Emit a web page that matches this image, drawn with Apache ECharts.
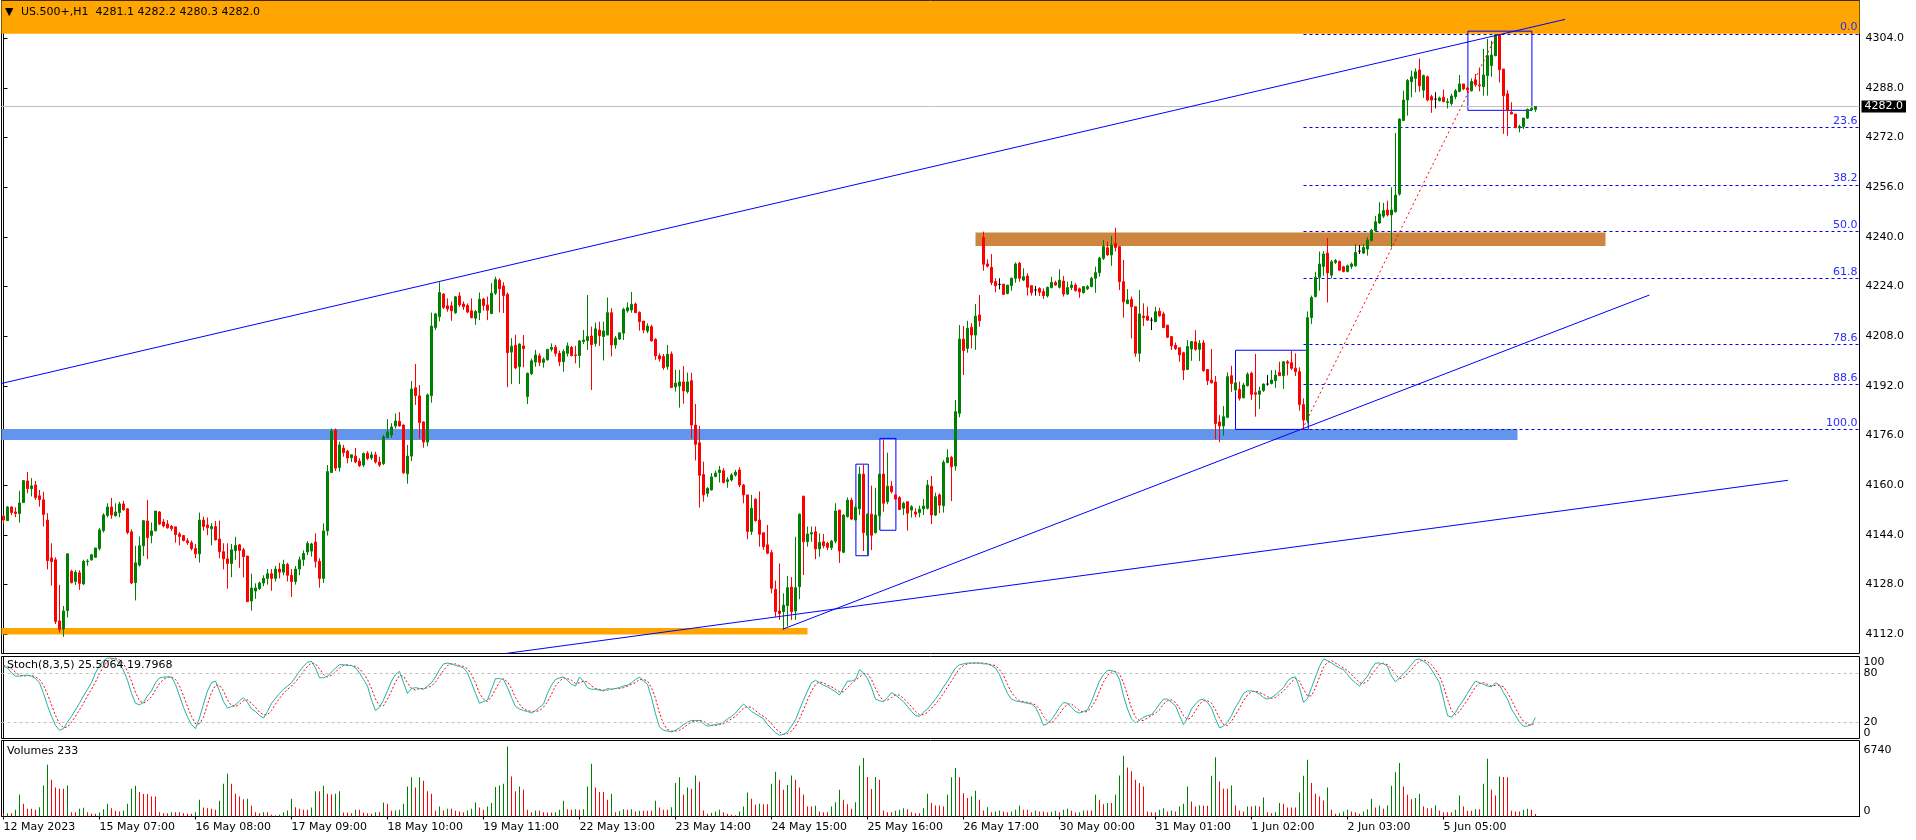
<!DOCTYPE html>
<html><head><meta charset="utf-8">
<script src="https://cdn.jsdelivr.net/npm/echarts@6/dist/echarts.min.js"></script>
<style>html,body{margin:0;padding:0;background:#fff}#c{width:1916px;height:840px}</style>
</head><body><div id="c"></div>
<script>
const tickLabels = ["12 May 2023","15 May 07:00","16 May 08:00","17 May 09:00","18 May 10:00","19 May 11:00","22 May 13:00","23 May 14:00","24 May 15:00","25 May 16:00","26 May 17:00","30 May 00:00","31 May 01:00","1 Jun 02:00","2 Jun 03:00","5 Jun 05:00"];
const tickBars = [0,24,48,72,96,120,144,168,192,216,240,264,288,312,336,360];
const priceTicks = [4112,4128,4144,4160,4176,4192,4208,4224,4240,4256,4272,4288,4304];
const stochTicks = [0,20,80,100];
const volumeTicks = [0,6740];

// [open, close, low, high] per H1 bar
const candles = [
[4150.1,4148.8,4147.5,4150.4],[4148.6,4153.0,4148.6,4153.3],[4153.0,4151.2,4150.4,4153.2],[4151.4,4150.9,4149.7,4152.9],[4150.9,4154.3,4148.0,4158.2],
[4154.4,4161.5,4154.4,4161.7],[4161.4,4158.9,4157.4,4164.3],[4158.9,4159.8,4156.4,4162.3],[4160.1,4156.0,4155.3,4161.4],[4156.6,4155.4,4153.1,4158.5],
[4155.3,4150.6,4146.7,4157.9],[4148.8,4135.7,4132.9,4151.0],[4136.6,4135.4,4127.7,4141.3],[4136.0,4116.1,4115.3,4136.8],[4116.3,4113.6,4112.5,4127.9],
[4113.7,4119.5,4111.2,4121.1],[4119.6,4137.9,4117.4,4138.1],[4132.3,4128.6,4128.4,4132.8],[4129.0,4132.0,4127.9,4132.7],[4131.8,4128.4,4126.3,4132.6],
[4128.2,4135.5,4127.9,4136.0],[4135.4,4135.6,4134.1,4136.2],[4136.0,4137.6,4135.7,4137.9],[4136.8,4139.8,4136.6,4139.8],[4139.6,4145.6,4139.0,4146.2],
[4145.4,4150.4,4144.8,4151.0],[4150.3,4153.0,4149.7,4154.2],[4153.0,4150.4,4149.2,4155.9],[4150.2,4151.4,4149.9,4154.2],[4151.2,4154.0,4149.7,4154.7],
[4154.0,4152.1,4151.8,4155.0],[4152.4,4144.8,4144.2,4152.6],[4145.0,4128.5,4128.2,4145.8],[4128.6,4135.0,4122.9,4140.5],[4134.3,4140.5,4133.8,4143.5],
[4140.5,4148.6,4137.2,4148.8],[4148.5,4143.1,4136.2,4155.3],[4143.8,4145.3,4141.3,4148.0],[4145.3,4151.7,4145.3,4151.7],[4151.4,4147.5,4147.2,4151.7],
[4148.2,4146.9,4146.4,4149.1],[4147.5,4146.3,4146.0,4148.8],[4146.8,4146.0,4145.3,4147.2],[4146.6,4144.1,4141.5,4146.6],[4144.3,4143.5,4140.6,4144.9],
[4143.8,4142.2,4141.9,4144.0],[4142.1,4141.5,4140.8,4143.0],[4141.5,4139.6,4139.0,4142.2],[4139.6,4137.9,4136.5,4141.1],[4137.9,4148.8,4135.1,4151.2],
[4148.8,4146.7,4145.4,4149.9],[4147.2,4146.3,4143.9,4149.6],[4146.0,4146.7,4140.6,4147.8],[4146.7,4142.4,4142.2,4148.5],[4142.7,4138.6,4136.5,4148.6],
[4138.6,4136.3,4132.9,4141.3],[4136.3,4134.8,4126.7,4141.3],[4134.8,4139.2,4130.4,4141.1],[4139.0,4140.6,4136.0,4143.4],[4140.8,4139.0,4133.4,4141.1],
[4139.2,4137.0,4130.3,4139.8],[4137.2,4122.5,4122.4,4137.2],[4122.7,4126.9,4119.6,4131.5],[4125.9,4126.9,4123.4,4128.4],[4126.7,4128.5,4126.3,4129.0],
[4128.5,4130.0,4127.5,4131.0],[4130.0,4131.5,4128.0,4133.0],[4131.5,4130.0,4126.0,4133.0],[4130.0,4133.0,4129.0,4134.0],[4133.0,4132.0,4130.0,4135.0],
[4132.0,4134.5,4131.0,4136.0],[4134.5,4131.0,4129.0,4135.0],[4131.0,4129.0,4124.0,4133.0],[4129.0,4133.0,4128.0,4134.0],[4133.0,4136.0,4131.0,4137.0],
[4136.0,4138.0,4134.0,4139.0],[4138.5,4141.3,4137.5,4142.0],[4138.8,4141.1,4137.0,4141.5],[4141.7,4135.5,4133.5,4144.5],[4135.5,4130.0,4127.0,4136.5],
[4130.0,4145.3,4128.5,4147.7],[4145.3,4164.4,4143.8,4166.5],[4164.1,4177.5,4164.1,4178.3],[4177.8,4165.5,4164.6,4178.3],[4165.7,4173.0,4164.4,4174.0],
[4172.0,4170.5,4169.2,4173.0],[4171.0,4168.8,4167.1,4171.4],[4168.9,4169.8,4167.5,4169.8],[4169.4,4167.5,4167.1,4172.0],[4167.8,4166.3,4165.9,4168.7],
[4166.5,4170.2,4165.9,4170.6],[4170.3,4168.6,4168.1,4171.0],[4168.8,4169.8,4168.1,4170.8],[4169.8,4167.5,4167.0,4170.8],[4167.5,4166.5,4165.9,4169.2],
[4167.0,4175.6,4166.5,4176.2],[4175.4,4177.2,4175.1,4181.3],[4176.2,4178.8,4175.3,4180.0],[4179.1,4180.7,4178.3,4183.1],[4180.6,4179.1,4178.9,4183.6],
[4179.4,4164.0,4163.7,4179.6],[4163.7,4169.4,4160.5,4173.0],[4169.4,4191.0,4167.8,4193.6],[4191.4,4188.9,4185.9,4199.1],[4188.8,4180.2,4175.0,4192.3],
[4180.4,4173.9,4172.1,4180.6],[4173.9,4189.1,4172.6,4189.6],[4188.9,4211.3,4186.6,4215.6],[4210.8,4215.2,4210.0,4215.5],[4214.3,4222.1,4212.8,4225.4],
[4221.6,4217.3,4216.8,4221.9],[4217.8,4216.8,4215.9,4220.2],[4217.8,4216.2,4213.0,4219.2],[4215.6,4220.7,4215.2,4221.0],[4221.0,4218.1,4217.5,4222.2],
[4218.4,4217.5,4216.5,4219.2],[4217.9,4215.8,4215.4,4218.6],[4216.2,4214.0,4213.8,4220.2],[4213.8,4216.0,4211.7,4216.5],[4215.6,4219.9,4213.2,4222.1],
[4220.0,4217.9,4216.3,4220.4],[4218.1,4216.4,4213.2,4220.8],[4215.3,4221.9,4215.3,4225.1],[4221.9,4226.3,4221.3,4227.2],[4226.1,4223.3,4215.7,4226.7],
[4224.2,4221.1,4215.5,4225.4],[4221.5,4202.7,4191.6,4222.1],[4202.9,4204.8,4192.6,4207.4],[4205.1,4197.8,4197.4,4208.5],[4198.2,4205.5,4192.6,4205.7],
[4204.9,4204.0,4198.0,4208.4],[4188.6,4196.1,4186.2,4196.3],[4195.9,4200.1,4195.5,4200.8],[4199.7,4202.0,4198.2,4203.6],[4201.7,4199.6,4198.4,4202.5],
[4199.6,4200.6,4197.9,4201.2],[4200.4,4203.8,4200.2,4203.9],[4203.8,4204.4,4203.1,4205.7],[4204.5,4202.5,4201.5,4205.2],[4202.5,4199.8,4198.4,4203.4],
[4199.8,4203.1,4196.6,4203.8],[4202.5,4204.9,4201.5,4206.0],[4204.4,4201.8,4201.5,4204.9],[4202.0,4201.8,4199.3,4204.9],[4201.8,4206.5,4197.9,4206.8],
[4206.3,4206.8,4205.5,4210.0],[4206.6,4207.9,4203.6,4221.3],[4208.1,4205.3,4190.7,4211.1],[4205.7,4210.4,4204.7,4212.4],[4210.0,4208.2,4204.9,4212.7],
[4207.9,4209.7,4200.2,4212.7],[4208.4,4215.6,4208.4,4220.5],[4215.6,4205.2,4201.5,4217.0],[4205.2,4207.4,4204.0,4208.1],[4207.1,4209.1,4206.8,4209.2],
[4209.0,4216.7,4206.8,4217.2],[4216.2,4217.2,4215.6,4218.9],[4216.5,4218.3,4215.6,4222.3],[4218.4,4215.6,4215.6,4218.9],[4215.7,4212.7,4209.8,4216.0],
[4212.9,4210.0,4209.0,4212.9],[4209.7,4211.3,4209.0,4212.2],[4211.1,4206.5,4206.3,4211.7],[4207.0,4201.7,4200.4,4207.4],[4201.7,4200.7,4199.8,4202.5],
[4201.5,4197.9,4197.2,4202.3],[4198.2,4202.2,4197.2,4205.2],[4202.3,4191.5,4191.3,4203.1],[4191.7,4192.9,4190.2,4197.2],[4192.0,4193.3,4185.0,4197.2],
[4193.3,4190.4,4186.3,4198.4],[4190.2,4193.3,4189.6,4196.3],[4193.7,4179.4,4175.1,4196.3],[4179.4,4173.2,4168.0,4186.2],[4173.7,4163.2,4152.8,4179.1],
[4163.5,4156.9,4154.7,4167.6],[4157.4,4159.0,4156.3,4159.4],[4158.5,4162.7,4158.3,4163.9],[4162.8,4163.9,4162.6,4164.7],[4164.1,4164.9,4160.9,4166.2],
[4164.7,4160.9,4160.6,4165.5],[4161.2,4161.8,4159.2,4162.6],[4161.7,4163.3,4161.2,4163.9],[4163.3,4164.2,4162.8,4164.9],[4164.9,4160.1,4159.4,4165.8],
[4160.1,4156.9,4154.2,4160.4],[4156.9,4145.1,4142.6,4156.9],[4145.1,4152.6,4144.0,4156.9],[4155.5,4148.6,4148.3,4155.8],[4148.8,4144.2,4140.2,4158.0],
[4144.7,4140.2,4139.2,4144.7],[4140.8,4138.1,4137.8,4147.2],[4138.3,4126.8,4125.2,4139.2],[4126.5,4119.3,4117.6,4129.3],[4119.5,4118.7,4116.6,4134.8],
[4119.3,4121.4,4113.6,4125.2],[4121.2,4127.0,4114.6,4130.8],[4127.2,4119.3,4116.6,4130.4],[4119.5,4127.0,4116.6,4143.4],[4127.3,4150.7,4123.3,4150.9],
[4156.5,4141.8,4131.1,4156.5],[4141.8,4144.3,4140.2,4146.7],[4144.3,4144.7,4141.8,4146.7],[4145.0,4139.5,4136.2,4146.7],[4139.5,4141.6,4137.0,4144.5],
[4141.8,4140.5,4139.7,4144.3],[4141.3,4140.0,4139.1,4141.8],[4139.9,4142.0,4139.1,4142.4],[4142.0,4151.7,4141.3,4154.2],[4152.0,4138.8,4135.0,4152.0],
[4138.4,4150.4,4138.1,4150.7],[4149.9,4155.2,4149.6,4156.1],[4155.2,4149.1,4148.8,4156.0],[4148.8,4152.8,4148.8,4153.8],[4152.4,4163.6,4150.4,4166.0],
[4163.6,4144.7,4138.8,4166.7],[4143.9,4150.7,4137.2,4150.9],[4150.7,4143.9,4139.1,4159.9],[4144.7,4150.4,4144.5,4159.2],[4150.2,4163.6,4145.6,4163.6],
[4163.6,4154.2,4151.5,4174.8],[4154.7,4159.7,4153.9,4170.5],[4159.7,4157.9,4157.4,4161.4],[4156.9,4155.6,4155.2,4157.2],[4156.0,4152.2,4152.0,4156.5],
[4152.6,4154.2,4150.4,4154.7],[4154.7,4151.0,4145.4,4154.7],[4152.0,4153.1,4149.6,4153.6],[4151.4,4150.7,4149.7,4152.6],[4151.2,4152.3,4149.7,4153.4],
[4152.4,4153.3,4150.4,4155.6],[4152.6,4160.1,4152.2,4161.7],[4159.7,4150.4,4147.5,4163.0],[4150.4,4156.3,4150.1,4157.6],[4156.9,4153.6,4151.0,4157.4],
[4153.4,4167.4,4151.2,4168.1],[4167.3,4168.9,4167.1,4171.6],[4169.0,4166.0,4154.9,4169.4],[4166.2,4183.7,4164.7,4187.5],[4183.2,4207.1,4181.9,4211.6],
[4207.1,4203.4,4195.5,4211.3],[4204.1,4210.6,4202.7,4213.0],[4210.9,4208.4,4204.1,4212.2],[4208.4,4214.5,4203.6,4218.4],[4214.9,4213.0,4211.1,4221.3],
[4239.8,4231.2,4229.1,4241.7],[4231.3,4230.6,4230.1,4232.8],[4230.2,4225.3,4224.5,4234.5],[4225.6,4224.3,4222.2,4226.7],[4224.7,4224.7,4223.1,4226.7],
[4224.8,4221.5,4221.3,4224.8],[4221.8,4224.5,4221.5,4224.5],[4224.3,4226.7,4222.7,4226.9],[4226.7,4231.3,4225.3,4231.8],[4231.5,4226.7,4225.6,4232.0],
[4226.1,4227.2,4225.8,4229.9],[4227.4,4223.8,4221.1,4228.3],[4224.3,4222.1,4221.1,4224.3],[4222.9,4222.9,4221.1,4224.2],[4223.4,4222.2,4221.0,4223.8],
[4222.4,4221.1,4220.0,4223.4],[4221.0,4223.8,4220.5,4224.0],[4223.7,4225.4,4223.4,4227.2],[4225.3,4224.5,4224.3,4225.9],[4223.8,4226.1,4223.4,4229.6],
[4225.8,4221.6,4220.8,4227.4],[4221.6,4223.7,4221.3,4225.6],[4223.7,4224.5,4222.9,4225.8],[4224.5,4222.7,4222.4,4225.1],[4223.3,4222.3,4220.4,4223.7],
[4222.0,4224.0,4221.8,4224.2],[4223.3,4224.0,4222.9,4224.5],[4224.0,4226.7,4223.8,4227.2],[4226.7,4228.5,4222.0,4230.4],[4228.5,4233.2,4227.2,4233.6],
[4233.1,4236.9,4232.6,4239.0],[4236.5,4234.2,4234.0,4238.5],[4234.2,4237.4,4230.7,4240.3],[4237.9,4236.6,4235.3,4243.0],[4236.9,4225.6,4222.9,4236.9],
[4225.6,4219.1,4214.0,4232.6],[4218.5,4219.7,4218.4,4223.2],[4219.9,4217.5,4207.3,4220.8],[4217.5,4202.5,4201.4,4217.7],[4202.5,4215.2,4199.8,4222.9],
[4214.5,4214.0,4211.3,4218.6],[4214.5,4213.2,4213.0,4217.5],[4213.2,4213.2,4210.0,4214.1],[4212.7,4215.9,4212.6,4217.5],[4216.1,4214.6,4214.3,4217.2],
[4215.2,4210.8,4210.8,4215.9],[4211.6,4207.7,4207.4,4211.6],[4207.9,4204.9,4203.6,4207.9],[4205.1,4204.0,4203.6,4206.0],[4204.3,4202.0,4199.8,4204.3],
[4202.7,4197.1,4193.9,4203.0],[4197.3,4204.7,4197.1,4206.8],[4203.9,4206.3,4200.1,4206.3],[4206.2,4203.8,4203.3,4210.0],[4203.8,4205.7,4200.0,4206.8],
[4205.9,4196.9,4196.6,4206.8],[4197.3,4193.7,4192.3,4197.3],[4193.9,4193.0,4192.8,4203.9],[4193.3,4179.9,4174.8,4195.2],[4180.4,4179.1,4173.9,4182.6],
[4179.1,4182.1,4176.0,4185.5],[4181.9,4195.0,4181.6,4196.4],[4195.3,4192.8,4190.1,4198.5],[4190.7,4193.0,4190.1,4193.9],[4190.9,4188.0,4187.3,4193.4],
[4188.2,4192.3,4188.0,4193.0],[4192.1,4195.8,4191.8,4196.4],[4196.1,4189.3,4187.5,4196.6],[4189.8,4189.3,4182.1,4202.3],[4189.3,4190.4,4184.6,4191.8],
[4190.5,4192.6,4190.1,4192.8],[4192.6,4192.6,4192.1,4195.5],[4192.8,4193.9,4192.5,4197.1],[4193.7,4195.5,4191.4,4197.1],[4196.3,4195.3,4195.3,4199.8],
[4195.3,4199.8,4191.0,4200.0],[4199.8,4199.3,4195.4,4200.3],[4199.5,4197.7,4197.1,4203.3],[4197.7,4196.6,4195.2,4202.5],[4196.6,4186.0,4184.0,4198.0],
[4186.0,4181.0,4178.0,4188.0],[4181.0,4214.0,4180.0,4216.0],[4214.0,4220.5,4212.0,4221.1],[4220.8,4227.0,4220.5,4228.8],[4227.0,4231.3,4222.7,4235.3],
[4230.5,4234.5,4227.5,4235.4],[4234.8,4228.4,4218.9,4239.7],[4227.7,4232.0,4226.7,4232.6],[4231.8,4232.4,4231.3,4232.9],[4232.1,4229.3,4229.1,4232.4],
[4230.4,4228.9,4228.6,4230.7],[4228.9,4230.7,4228.6,4231.1],[4230.5,4231.3,4229.7,4231.8],[4230.7,4235.0,4230.4,4237.7],[4235.4,4235.4,4234.5,4237.4],
[4234.8,4236.6,4234.5,4237.7],[4236.1,4239.0,4234.0,4239.9],[4238.8,4242.2,4238.6,4242.6],[4242.0,4244.9,4241.7,4246.8],[4244.5,4247.4,4244.2,4251.2],
[4246.7,4248.5,4246.1,4251.0],[4248.7,4247.1,4246.6,4251.7],[4247.1,4248.7,4236.6,4256.0],[4248.1,4253.5,4247.9,4273.5],[4253.8,4278.0,4253.3,4278.2],
[4277.5,4284.1,4277.5,4287.1],[4284.1,4290.4,4279.1,4290.9],[4290.0,4291.6,4285.0,4293.6],[4291.1,4293.2,4286.6,4294.3],[4293.8,4288.7,4286.8,4297.5],
[4287.3,4292.0,4284.8,4292.3],[4291.6,4284.1,4283.7,4292.0],[4285.2,4284.1,4280.0,4285.8],[4284.4,4284.4,4281.4,4286.6],[4283.9,4284.8,4283.7,4285.2],
[4285.0,4283.6,4283.4,4287.5],[4283.3,4283.6,4281.4,4284.7],[4283.0,4285.4,4282.3,4286.1],[4285.2,4287.1,4284.4,4287.7],[4286.9,4289.3,4286.6,4292.2],
[4289.3,4287.7,4287.3,4289.3],[4288.0,4287.4,4286.3,4288.4],[4287.1,4290.1,4286.8,4291.1],[4290.6,4289.0,4288.4,4292.5],[4289.0,4288.7,4286.9,4294.6],
[4288.4,4292.2,4285.5,4300.6],[4292.0,4298.4,4285.5,4303.8],[4295.2,4298.6,4291.6,4303.2],[4298.4,4305.2,4298.2,4305.4],[4305.1,4293.9,4289.8,4305.2],
[4294.1,4285.5,4273.2,4294.1],[4286.1,4280.7,4272.6,4287.3],[4280.2,4279.6,4279.6,4283.4],[4279.6,4275.3,4275.0,4279.6],[4275.1,4275.6,4273.7,4276.2],
[4275.6,4278.3,4274.8,4278.3],[4278.3,4281.1,4278.0,4281.4],[4281.0,4281.4,4280.5,4281.8],[4281.1,4282.0,4280.3,4282.2]
];

const stochK = [
88,86,80,76,76,77,77,76,73,68, 55,40,27,16,10,12,20,27,35,43, 52,60,68,80,89,95,98,98,97,92, 83,71,55,43,41,44,52,58,68,74,
75,75,75,66,52,38,26,17,12,25, 42,58,68,70,58,45,37,39,41,46, 50,44,36,33,28,25,33,43,49,55, 60,64,68,75,82,88,93,94,86,74,
74,76,81,86,90,90,89,89,86,80, 72,64,47,34,38,47,58,70,78,82, 68,55,61,62,61,60,64,68,75,84, 91,92,91,89,88,86,80,68,55,43,
45,47,60,73,73,72,62,50,39,36, 34,33,31,34,38,42,55,65,72,74, 75,71,66,64,75,70,62,60,60,59, 58,61,60,61,62,64,65,68,72,75,
70,66,50,30,14,10,9,8,10,13, 17,20,22,22,22,18,15,16,17,18, 20,24,27,31,37,42,38,33,30,27, 24,17,12,7,4,5,8,15,23,35,
47,58,68,71,68,65,63,60,57,53, 62,70,70,72,84,80,73,62,48,46, 45,50,56,53,49,45,39,33,28,27, 32,36,42,48,55,63,70,78,86,90,
91,92,92,92,92,91,91,89,86,78, 66,55,48,46,45,44,43,42,38,28, 16,18,23,30,38,44,43,38,33,31, 33,35,45,58,70,78,83,83,81,72,
52,36,24,19,22,26,28,29,35,42, 48,48,44,40,28,17,25,36,42,47, 48,44,37,24,13,15,20,28,38,46, 55,58,58,57,54,50,48,50,53,58,
62,70,74,75,62,44,49,62,75,88, 97,95,92,89,86,84,78,72,68,64, 70,76,85,92,92,91,88,76,69,74, 79,84,90,96,97,94,91,84,76,68,
48,28,26,32,40,47,55,63,70,68, 66,64,63,68,65,56,48,36,28,20, 15,15,17,25.5
];

const stochD = [
89,88,85,81,77,76,77,77,75,72, 65,54,41,28,18,13,14,20,27,35, 43,52,60,69,79,88,94,97,98,96, 91,82,70,56,46,43,46,51,59,67,
72,75,75,72,64,52,39,27,18,18, 26,42,56,65,65,58,47,40,39,42, 46,47,43,38,32,29,29,34,42,49, 55,60,64,69,75,82,88,92,91,85,
78,75,77,81,86,89,90,89,88,85, 79,72,61,48,40,40,48,58,69,77, 76,68,61,59,61,61,62,64,69,76, 83,89,91,91,89,88,85,78,68,55,
48,45,51,60,69,73,69,61,50,42, 36,34,33,33,34,38,45,54,64,70, 74,73,71,67,68,70,69,64,61,60, 59,59,60,61,61,62,64,66,68,72,
72,70,62,49,31,18,11,9,9,10, 13,17,20,21,22,21,18,16,16,17, 18,21,24,27,32,37,39,38,34,30, 27,23,18,12,8,5,6,9,15,24,
35,47,58,66,69,68,65,63,60,57, 57,62,67,71,75,79,79,72,61,52, 46,47,50,53,53,49,44,39,33,29, 29,32,37,42,48,55,63,70,78,85,
89,91,92,92,92,92,91,90,89,84, 77,66,56,50,46,45,44,43,41,36, 27,21,19,24,30,37,42,42,38,34, 32,33,38,46,58,69,77,81,82,79,
68,53,37,26,22,22,25,28,31,35, 42,46,47,44,37,28,23,26,34,42, 46,46,43,35,25,17,16,21,29,37, 46,53,57,58,56,54,51,49,50,54,
58,63,69,73,70,60,52,52,62,75, 87,93,95,92,89,86,83,78,73,68, 67,70,77,84,90,92,90,85,78,73, 74,79,84,90,94,96,94,90,84,76,
64,48,34,29,33,40,47,55,63,67, 68,66,64,65,65,63,56,47,37,28, 21,17,16,19.8
];

const volumes = [
260,320,320,640,2090,1220,740,740,640,900, 2990,4990,3540,2800,2670,2670,2990,420,420,740,
840,420,260,260,390,710,1220,800,550,480, 580,1220,2670,2960,2350,2160,2160,1930,1930,420,
320,320,420,420,420,320,260,260,420,1610, 870,800,740,640,1510,3160,4120,3160,2190,1930,
1670,1700,1030,420,320,420,420,160,100,160, 420,580,1700,900,740,640,640,870,2420,2420,
2960,2190,2130,2190,2420,390,390,320,640,640, 390,320,260,420,420,1350,1220,550,580,640,
1220,2900,3770,2800,3770,3450,2420,2190,550,970, 580,740,740,550,480,420,580,740,1350,870,
640,970,1290,2830,2990,3160,6740,3860,2420,2900, 2580,640,420,580,580,420,390,390,420,640,
1510,710,640,710,640,710,2900,5090,2800,2350, 2350,1610,2190,420,520,710,640,710,480,550,
550,550,550,1510,870,640,640,900,3220,3770, 2090,2800,2670,3960,3350,580,260,350,480,640,
420,260,160,130,480,970,2320,1710,1130,1220, 1190,1190,3160,4310,3540,2580,3030,3960,3540,2800,
2090,970,970,1030,480,420,420,970,1380,2580, 1610,1190,740,1380,4890,5640,3800,2640,3800,3540,
580,420,420,550,640,800,710,420,320,320, 800,2190,1290,1060,1060,970,2090,3770,4670,3770,
2250,1770,1930,2480,1610,580,900,420,480,580, 480,420,480,640,1030,640,640,420,580,480,
480,420,450,550,420,640,740,550,390,420, 580,580,580,2090,1610,1190,1290,1290,2090,3960,
5860,4730,4350,3540,3220,2900,480,420,420,640, 800,480,580,480,970,1220,2900,1450,970,1090,
1030,1030,3930,5700,3380,2670,2670,2990,1060,580, 480,970,970,1030,970,1840,420,320,420,1300,
1220,870,870,870,2320,3930,5470,3220,2190,1930, 1550,2800,640,260,320,480,640,480,420,260,
480,710,1710,870,1030,740,1060,2960,4250,5150, 2900,2090,1670,1770,2190,970,800,800,1060,580,
420,420,420,640,2030,970,550,550,710,710, 3160,5570,2580,2030,3860,3800,3770,550,480,480,
640,740,640,233
];

// chart objects, in [bar index, price] space
const topSupplyZone = [-0.5, 4305.5, 464, 4316.1];
const supportZone = [-0.5, 4174.6, 378.5, 4178.1];
const lowZone = [-0.5, 4111.9, 201, 4114.0];
const resistanceZone = [243, 4237.1, 400.5, 4241.4];
const boxes = [[213.1, 4137.3, 216.2, 4166.8],[219.1, 4145.5, 223.1, 4175.1],[308, 4178.0, 326.2, 4203.5],[366.1, 4280.8, 382.1, 4306.3]];
const trendLines = [
  [[-0.5, 4192.8],[390.4, 4310.1]],
  [[194.75, 4113.6],[411.5, 4221.3]],
  [[125.5, 4105.8],[446.1, 4161.6]]
];
const fibAnchor = [[324.7, 4178.0],[373.4, 4305.4]];
const fibLabels = ["0.0","23.6","38.2","50.0","61.8","78.6","88.6","100.0"];
const fibPrices = [4305.4, 4275.3, 4256.7, 4241.7, 4226.7, 4205.3, 4192.5, 4178.0];
const fibStartBar = 325;
const bidPrice = 4282.0;
const stochLevels = [20, 80];
const stochText = "Stoch(8,3,5) 25.5064 19.7968";
const symbolText = "US.500+,H1";

// ---------------- build -----------------
const FONT = 'DejaVu Sans';
const X_MIN = -0.5, X_MAX = 464;
const UP = '#008000', DOWN = '#ff0000';
const last = candles[candles.length - 1];
const headerText = symbolText + '  ' + [last[0], last[3], last[2], last[1]].map(v => v.toFixed(1)).join(' ');

const candleData = candles.map((c, i) => {
  const item = { value: [i, c[0], c[1], c[2], c[3]] };
  if (c[0] === c[1]) item.itemStyle = { color: '#000', color0: '#000', borderColor: '#000', borderColor0: '#000' };
  return item;
});

function area(z, style) {
  return [{ coord: [z[0], z[1]], itemStyle: style }, { coord: [z[2], z[3]] }];
}
const markAreas = [
  area(topSupplyZone, { color: '#ffa500' }),
  area(supportZone, { color: '#6495ed' }),
  area(lowZone, { color: '#ffa500' }),
  area(resistanceZone, { color: '#cd853f' })
].concat(boxes.map(b => area(b, { color: 'rgba(0,0,0,0)', borderColor: '#0000ff', borderWidth: 1 })));

const txt = { fontFamily: FONT, fontSize: 11, color: '#000' };

function xAxisFor(idx, show) {
  return {
    type: 'value', gridIndex: idx, min: X_MIN, max: X_MAX, show: true,
    splitLine: { show: false },
    axisLine: { show: show, lineStyle: { color: '#000', width: 1 } },
    axisTick: { show: show, customValues: tickBars, length: 3, lineStyle: { color: '#000' } },
    axisLabel: { show: show, customValues: tickBars, align: 'left', margin: 5, ...txt,
      formatter: v => tickLabels[Math.round(v / 24)] || '' }
  };
}

const option = {
  backgroundColor: '#fff',
  animation: false,
  textStyle: { fontFamily: FONT },
  title: [
    { text: '\u25BC', left: 5, top: 7, padding: 0, textStyle: { ...txt, fontSize: 11, fontWeight: 'normal' } },
    { text: headerText, left: 21, top: 7, padding: 0, textStyle: { ...txt, fontWeight: 'normal' } },
    { text: stochText, left: 7, top: 660, padding: 0, textStyle: { ...txt, fontWeight: 'normal' } },
    { text: 'Volumes ' + volumes[volumes.length - 1], left: 7, top: 746, padding: 0, textStyle: { ...txt, fontWeight: 'normal' } }
  ],
  grid: [
    { left: 1.5, top: 0.5, width: 1858, height: 653, show: true, borderColor: '#000', borderWidth: 1, backgroundColor: 'rgba(0,0,0,0)' },
    { left: 1.5, top: 656.5, width: 1858, height: 82, show: true, borderColor: '#000', borderWidth: 1, backgroundColor: 'rgba(0,0,0,0)' },
    { left: 1.5, top: 740.5, width: 1858, height: 76, show: true, borderColor: '#000', borderWidth: 1, backgroundColor: 'rgba(0,0,0,0)' }
  ],
  xAxis: [xAxisFor(0, false), xAxisFor(1, false), xAxisFor(2, true)],
  yAxis: [
    { type: 'value', gridIndex: 0, position: 'right', min: 4105.8, max: 4316.18, scale: true,
      splitLine: { show: false },
      axisLine: { show: true, lineStyle: { color: '#000' } },
      axisTick: { show: true, customValues: priceTicks, length: 4, lineStyle: { color: '#000' } },
      axisLabel: { customValues: priceTicks, margin: 6, ...txt, formatter: v => v.toFixed(1) } },
    { type: 'value', gridIndex: 1, position: 'right', min: 0, max: 100,
      splitLine: { show: false },
      axisLine: { show: true, lineStyle: { color: '#000' } },
      axisTick: { show: false },
      axisLabel: { customValues: stochTicks, margin: 4, ...txt, verticalAlignMinLabel: 'bottom', verticalAlignMaxLabel: 'top',
        formatter: v => String(v) } },
    { type: 'value', gridIndex: 2, position: 'right', min: 0, max: 7320,
      splitLine: { show: false },
      axisLine: { show: true, lineStyle: { color: '#000' } },
      axisTick: { show: false },
      axisLabel: { customValues: volumeTicks, margin: 4, ...txt, verticalAlignMinLabel: 'bottom',
        formatter: v => v > 0 ? '{t|' + String(v) + '}' : String(v),
        rich: { t: { fontFamily: FONT, fontSize: 11, color: '#000', padding: [8, 0, 0, 0] } } } }
  ],
  series: [
    {
      type: 'candlestick', name: 'US.500+', xAxisIndex: 0, yAxisIndex: 0, large: false,
      dimensions: ['bar', 'open', 'close', 'low', 'high'],
      encode: { x: 'bar', y: ['open', 'close', 'low', 'high'] },
      data: candleData, barWidth: 2, z: 3,
      itemStyle: { color: UP, color0: DOWN, borderColor: UP, borderColor0: DOWN, borderColorDoji: '#000', borderWidth: 1 },
      markArea: { silent: true, z: 1, data: markAreas, label: { show: false } },
      markLine: {
        silent: true, symbol: ['none', 'none'], z: 2,
        lineStyle: { color: '#c0c0c0', type: 'solid', width: 1 },
        label: { show: true, position: 'end', distance: 2, formatter: bidPrice.toFixed(1),
          backgroundColor: '#000', color: '#fff', padding: [1, 3, 0, 3], fontFamily: FONT, fontSize: 11 },
        data: [{ yAxis: bidPrice }]
      }
    },
    ...trendLines.map(l => ({
      type: 'line', xAxisIndex: 0, yAxisIndex: 0, data: l, symbol: 'none', z: 4, silent: true,
      lineStyle: { color: '#0000ff', width: 1 }
    })),
    {
      type: 'line', xAxisIndex: 0, yAxisIndex: 0, data: fibAnchor, symbol: 'none', z: 4, silent: true,
      lineStyle: { color: '#ff0000', width: 1, type: [2, 3] },
      markLine: {
        silent: true, symbol: ['none', 'none'], z: 2,
        lineStyle: { color: '#0000ff', type: [3, 3], width: 1 },
        label: { show: true, position: 'insideEndTop', distance: [2, 1], color: '#2b2bff', fontFamily: FONT, fontSize: 11 },
        data: fibPrices.map((p, k) => [
          { coord: [fibStartBar, p], label: { formatter: fibLabels[k] } },
          { coord: [X_MAX, p] }
        ])
      }
    },
    {
      type: 'line', name: 'K', xAxisIndex: 1, yAxisIndex: 1, data: stochK.map((v, i) => [i, v]),
      symbol: 'none', lineStyle: { color: '#20b2aa', width: 1 }, z: 4,
      markLine: {
        silent: true, symbol: ['none', 'none'], label: { show: false },
        lineStyle: { color: '#c0c0c0', type: [3, 3], width: 1 },
        data: stochLevels.map(v => ({ yAxis: v }))
      }
    },
    {
      type: 'line', name: 'D', xAxisIndex: 1, yAxisIndex: 1, data: stochD.map((v, i) => [i, v]),
      symbol: 'none', lineStyle: { color: '#ff0000', width: 1, type: [2, 2] }, z: 3
    },
    {
      type: 'bar', name: 'Volumes', xAxisIndex: 2, yAxisIndex: 2, barWidth: 1,
      data: volumes.map((v, i) => [i, v]),
      itemStyle: { color: p => (p.dataIndex > 0 && volumes[p.dataIndex] > volumes[p.dataIndex - 1]) ? UP : DOWN }
    }
  ]
};

const chart = echarts.init(document.getElementById('c'), null, { renderer: 'canvas' });
chart.setOption(option);
</script>
</body></html>
